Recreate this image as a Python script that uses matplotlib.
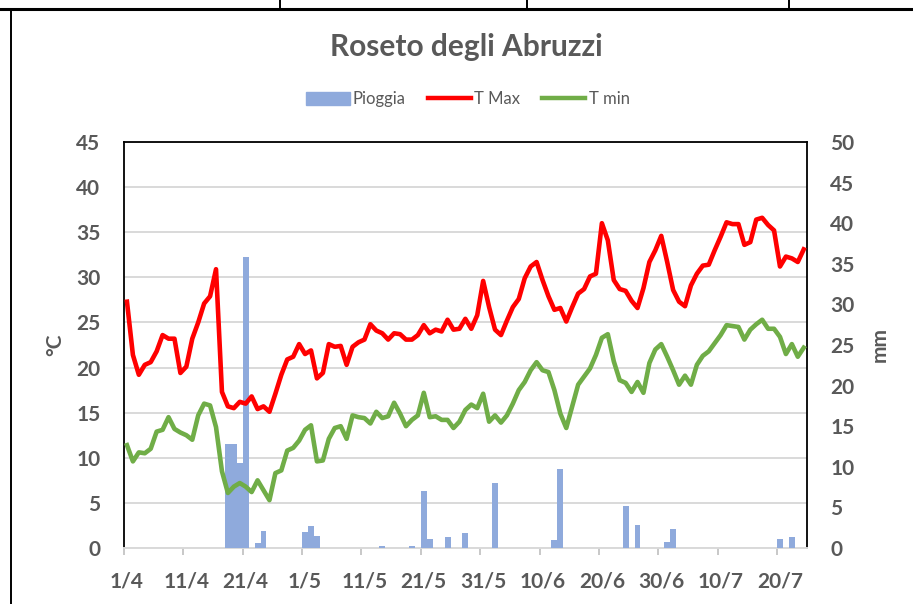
import numpy as np
import matplotlib
matplotlib.use('Agg')
import matplotlib.pyplot as plt
from matplotlib.lines import Line2D
from matplotlib.patches import Patch

# daily values from 1/4 to 24/7
t_max = [27.3, 21.4, 19.2, 20.3, 20.6, 21.8, 23.6, 23.2, 23.2, 19.4,
         20.1, 23.2, 25.0, 27.1, 27.9, 30.9, 17.3, 15.7, 15.5, 16.2,
         16.0, 16.8, 15.4, 15.7, 15.1, 17.1, 19.2, 20.9, 21.2, 22.6,
         21.5, 21.9, 18.8, 19.4, 22.6, 22.3, 22.4, 20.3, 22.3, 22.8,
         23.1, 24.8, 24.1, 23.8, 23.1, 23.8, 23.7, 23.1, 23.1, 23.6,
         24.7, 23.8, 24.2, 24.0, 25.3, 24.2, 24.3, 25.4, 24.3, 25.8,
         29.6, 26.7, 24.2, 23.6, 25.2, 26.7, 27.6, 29.9, 31.2, 31.7,
         29.7, 27.9, 26.4, 26.6, 25.1, 26.7, 28.2, 28.7, 30.1, 30.4,
         36.0, 34.1, 29.7, 28.7, 28.5, 27.4, 26.6, 28.8, 31.7, 33.0,
         34.6, 31.7, 28.6, 27.3, 26.8, 29.1, 30.4, 31.3, 31.4, 33.0,
         34.5, 36.1, 35.9, 35.9, 33.6, 33.9, 36.4, 36.6, 35.8, 35.2,
         31.2, 32.3, 32.1, 31.7, 33.1]

t_min = [11.4, 9.6, 10.6, 10.5, 11.0, 12.9, 13.1, 14.5, 13.2, 12.8,
         12.5, 12.0, 14.7, 16.0, 15.8, 13.4, 8.5, 6.1, 6.8, 7.2,
         6.8, 6.2, 7.5, 6.4, 5.3, 8.3, 8.6, 10.8, 11.1, 11.9,
         13.1, 13.6, 9.6, 9.7, 12.1, 13.3, 13.5, 12.1, 14.7, 14.5,
         14.4, 13.8, 15.1, 14.4, 14.6, 16.1, 14.9, 13.5, 14.2, 14.7,
         17.2, 14.5, 14.6, 14.2, 14.2, 13.3, 14.0, 15.3, 15.9, 15.5,
         17.1, 14.0, 14.7, 13.9, 14.7, 16.0, 17.5, 18.4, 19.7, 20.6,
         19.7, 19.5, 17.5, 14.9, 13.3, 15.7, 18.1, 19.0, 19.9, 21.4,
         23.3, 23.7, 20.7, 18.6, 18.3, 17.3, 18.4, 17.2, 20.5, 22.0,
         22.6, 21.2, 19.7, 18.1, 19.1, 18.1, 20.3, 21.3, 21.8, 22.7,
         23.6, 24.7, 24.6, 24.5, 23.1, 24.2, 24.8, 25.3, 24.3, 24.3,
         23.4, 21.5, 22.6, 21.2, 22.2]

pioggia = [0, 0, 0, 0, 0, 0, 0, 0, 0, 0,
           0, 0, 0, 0, 0, 0, 0, 12.8, 12.8, 10.5,
           35.8, 0, 0.6, 2.1, 0, 0, 0, 0, 0, 0,
           2.0, 2.75, 1.5, 0, 0, 0, 0, 0, 0, 0,
           0, 0, 0, 0.3, 0, 0, 0, 0, 0.3, 0,
           7.0, 1.1, 0, 0, 1.4, 0, 0, 1.8, 0, 0,
           0, 0, 8.0, 0, 0, 0, 0, 0, 0, 0,
           0, 0, 1.0, 9.7, 0, 0, 0, 0, 0, 0,
           0, 0, 0, 0, 5.2, 0, 2.8, 0, 0, 0,
           0, 0.7, 2.3, 0, 0, 0, 0, 0, 0, 0,
           0, 0, 0, 0, 0, 0, 0, 0, 0, 0,
           1.1, 0, 1.4, 0, 0]

date_labels = ["1/4", "11/4", "21/4", "1/5", "11/5", "21/5",
               "31/5", "10/6", "20/6", "30/6", "10/7", "20/7"]

plt.rcParams['font.family'] = ['Lato', 'DejaVu Sans']
GREY = "#595959"
W, H = 913, 604

fig = plt.figure(figsize=(W / 100, H / 100), dpi=100)


def fx(px):
    return px / W


def fy(py):
    return 1 - py / H


ax1 = fig.add_axes([fx(124), fy(548), fx(806.7) - fx(124), fy(142) - fy(548)])
ax2 = ax1.twinx()
ax3 = ax1.twinx()

days = np.arange(len(t_max))

# ── bars (secondary axis, mm) ──
ax2.bar(days, pioggia, width=1.0, color="#8FAADC", lw=0, zorder=2)
ax2.set_ylim(0, 50)
ax2.set_yticks(np.arange(0, 51, 5))

# ── lines (on top) ──
ax3.plot(days, t_max, color="#FF0000", lw=3.3, solid_joinstyle="round")
ax3.plot(days, t_min, color="#70AD47", lw=3.3, solid_joinstyle="round")
ax3.set_ylim(0, 45)
ax3.yaxis.set_visible(False)

# ── primary axis: grid + ticks ──
ax1.set_ylim(0, 45)
ax1.set_yticks(np.arange(0, 46, 5))
ax1.set_xlim(-0.5, len(days) - 0.5)
ax1.yaxis.grid(True, color="#D9D9D9", lw=1.4)
ax1.set_axisbelow(True)
ax1.set_xticks(np.arange(0, 111, 10))
ax1.set_xticklabels(date_labels)
ax1.set_xticks(np.arange(0, 111, 10) - 0.5, minor=True)
ax1.tick_params(axis="x", which="major", length=0, pad=17)
ax1.tick_params(axis="x", which="minor", length=5, color="#BFBFBF", width=1.2)

for ax in (ax1, ax2):
    ax.tick_params(axis="y", length=0, pad=17)
    for lab in ax.get_yticklabels() + ax.get_xticklabels():
        lab.set_fontsize(15)
        lab.set_fontweight("bold")
        lab.set_color(GREY)

for ax in (ax2, ax3):
    for s in ax.spines.values():
        s.set_visible(False)
for s in ("left", "top", "right"):
    ax1.spines[s].set_color("black")
    ax1.spines[s].set_linewidth(1.3)
ax1.spines["bottom"].set_color("#D9D9D9")
ax1.spines["bottom"].set_linewidth(1.4)

fig.text(fx(55), fy(345), "°C", rotation=90, ha="center", va="center",
         fontsize=15, fontweight="bold", color=GREY)
fig.text(fx(880), fy(345), "mm", rotation=90, ha="center", va="center",
         fontsize=15, fontweight="bold", color=GREY)

fig.text(fx(466), fy(47), "Roseto degli Abruzzi", ha="center", va="center",
         fontsize=21.5, fontweight="bold", color=GREY)

handles = [Patch(color="#8FAADC"),
           Line2D([], [], color="#FF0000", lw=3.2),
           Line2D([], [], color="#70AD47", lw=3.2)]
fig.legend(handles, ["Pioggia", "T Max", "T min"], loc="center",
           bbox_to_anchor=(fx(468), fy(99)), ncol=3, frameon=False,
           fontsize=12, labelcolor=GREY, handlelength=2.6, handleheight=0.8,
           handletextpad=0.2, columnspacing=1.3)

# document table border around the chart
fig.add_artist(Line2D([0, 1], [fy(9), fy(9)], color="black", lw=2.2,
                      transform=fig.transFigure))
for xv in (280, 527, 789):
    fig.add_artist(Line2D([fx(xv), fx(xv)], [1, fy(9)], color="black", lw=1.4,
                          transform=fig.transFigure))
fig.add_artist(Line2D([fx(11), fx(11)], [fy(9), 0], color="black", lw=1.4,
                      transform=fig.transFigure))

fig.savefig("out.png", dpi=100)
